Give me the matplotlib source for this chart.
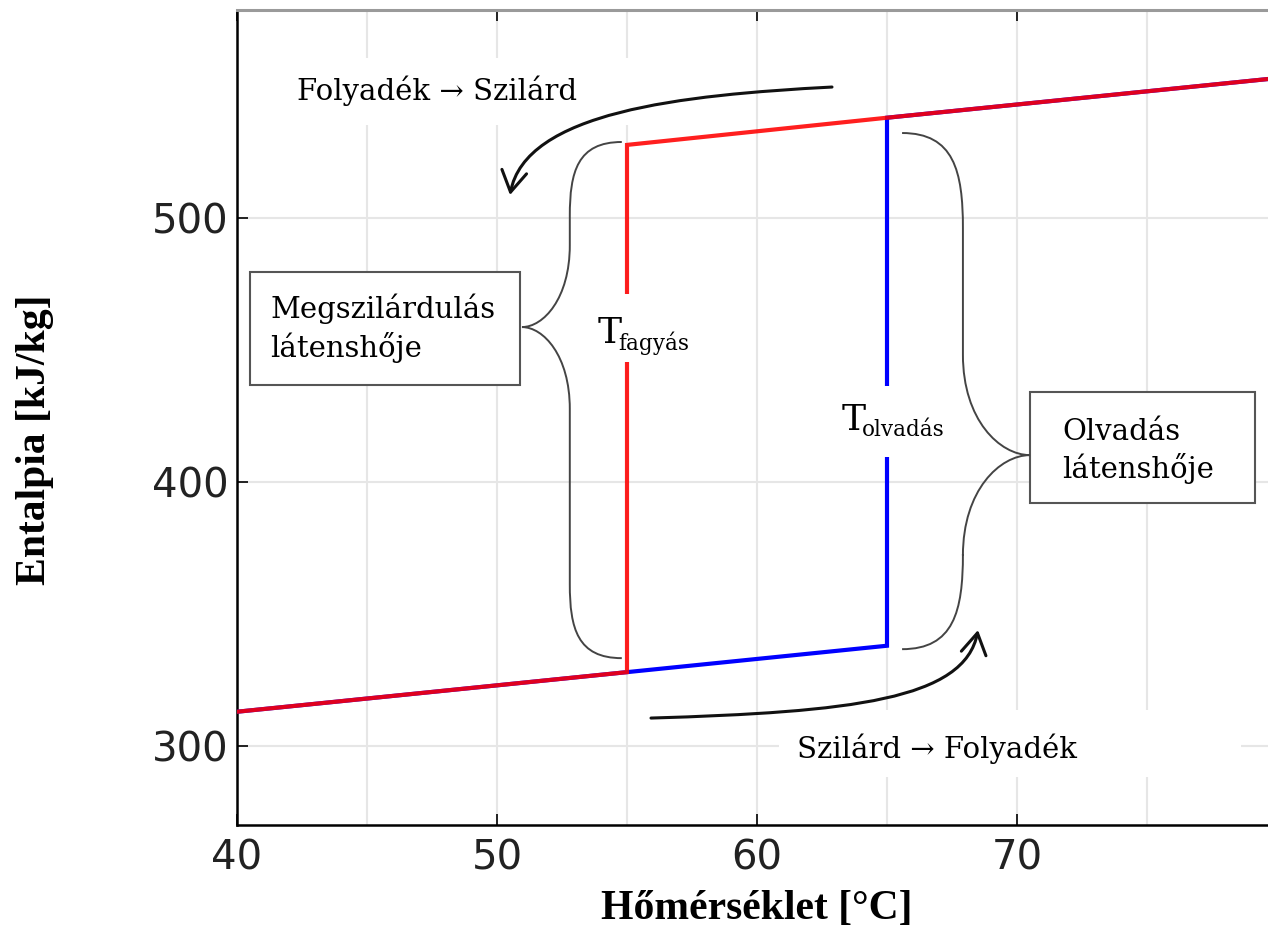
import matplotlib
matplotlib.use("Agg")
import matplotlib.pyplot as plt
from matplotlib.patches import Rectangle, FancyArrowPatch, PathPatch
from matplotlib.path import Path

# melting (heating) path and freezing (cooling) path
T_heat = [40, 55, 65, 65, 80]
H_heat = [313, 328, 338, 538, 553]
T_cool = [80, 65, 55, 55, 40]
H_cool = [553, 538, 527.7, 328, 313]

T_freeze = 55
T_melt = 65

x_ticks = [40, 50, 60, 70]
x_minor = [45, 55, 65, 75]
y_ticks = [300, 400, 500]

W, H = 1268, 933
fig = plt.figure(figsize=(W / 100, H / 100), dpi=100)
ax = fig.add_axes([237 / W, 108 / H, 1040 / W, 815 / H])
ax.set_xlim(40, 80)
ax.set_ylim(270.1, 578.8)

ax.set_xticks(x_ticks)
ax.set_xticks(x_minor, minor=True)
ax.set_yticks(y_ticks)
ax.grid(True, which='both', axis='x', color='#e6e6e6', lw=1.5)
ax.grid(True, which='major', axis='y', color='#e6e6e6', lw=1.5)
ax.tick_params(axis='both', which='major', direction='in', length=8, width=1.2,
               labelsize=29, labelcolor='#222', top=True)
ax.tick_params(axis='x', pad=10)
ax.tick_params(axis='y', pad=6)
ax.tick_params(axis='both', which='minor', length=0)
ax.spines['right'].set_visible(False)
ax.spines['top'].set_color('#9a9a9a')
ax.spines['top'].set_linewidth(2.2)
ax.spines['left'].set_linewidth(1.8)
ax.spines['bottom'].set_linewidth(1.8)

lab_font = dict(family=['Liberation Serif', 'DejaVu Serif'], fontweight='bold', fontsize=30)
ax.set_xlabel('Hőmérséklet [°C]', labelpad=8, **lab_font)
ax.set_ylabel('Entalpia [kJ/kg]', va='center', **lab_font)
ax.yaxis.set_label_coords((35 - 237) / 1040, 0.5 + (815 / 2 + 10 - 440) / 815)

ax.plot(T_heat, H_heat, color='#0000ff', lw=3, zorder=3, solid_joinstyle='miter')
ax.plot(T_cool, H_cool, color='#ff0000', lw=3, alpha=0.88, zorder=4, solid_joinstyle='miter')


def px2d(px, py):
    return 40 + (px - 237) / 26.0, 300 + (746 - py) / 2.64


def white_box(x0, y0, x1, y1, **kw):
    a = px2d(x0, y1)
    b = px2d(x1, y0)
    ax.add_patch(Rectangle(a, b[0] - a[0], b[1] - a[1], **kw))


serif = ['DejaVu Serif']

# white areas behind the arrow captions
white_box(270, 58, 650, 125, fc='white', ec='none', zorder=2)
white_box(779, 710, 1241, 777, fc='white', ec='none', zorder=2)

tx, ty = px2d(437, 91)
ax.text(tx, ty, 'Folyadék → Szilárd', family=serif, fontsize=21, ha='center', va='center', zorder=5)
tx, ty = px2d(937, 749)
ax.text(tx, ty, 'Szilárd → Folyadék', family=serif, fontsize=21, ha='center', va='center', zorder=5)

# label boxes
white_box(250, 272, 520, 385, fc='white', ec='#555', lw=1.5, zorder=5)
white_box(1030, 392, 1255, 503, fc='white', ec='#555', lw=1.5, zorder=5)
p = px2d(270, 318)
ax.text(p[0], p[1], 'Megszilárdulás', family=serif, fontsize=21, ha='left', va='baseline', zorder=6)
p = px2d(270, 357)
ax.text(p[0], p[1], 'látenshője', family=serif, fontsize=21, ha='left', va='baseline', zorder=6)
p = px2d(1062, 440)
ax.text(p[0], p[1], 'Olvadás', family=serif, fontsize=21, ha='left', va='baseline', zorder=6)
p = px2d(1062, 478)
ax.text(p[0], p[1], 'látenshője', family=serif, fontsize=21, ha='left', va='baseline', zorder=6)

# temperature labels on the vertical lines, with a gap cut in the line
white_box(612, 294, 642, 362, fc='white', ec='none', zorder=4.5)
white_box(872, 386, 902, 457, fc='white', ec='none', zorder=4.5)
ax.text(T_freeze - 1.13, px2d(0, 343)[1], 'T', family=serif, fontsize=26, va='baseline', zorder=5)
ax.text(T_freeze - 0.33, px2d(0, 350)[1], 'fagyás', family=serif, fontsize=15.5, va='baseline', zorder=5)
ax.text(T_melt - 1.75, px2d(0, 430)[1], 'T', family=serif, fontsize=26, va='baseline', zorder=5)
ax.text(T_melt - 0.95, px2d(0, 436)[1], 'olvadás', family=serif, fontsize=15.5, va='baseline', zorder=5)


def brace(xe, ytop, ybot, xv, xt, ym, he, ht):
    pts = [(xe, ytop), (xv + (xe - xv) * 0.15, ytop), (xv, ytop - he * 0.4), (xv, ytop - he),
           (xv, ym + ht),
           (xv, ym + ht * 0.35), (xt + (xv - xt) * 0.45, ym), (xt, ym),
           (xt + (xv - xt) * 0.45, ym), (xv, ym - ht * 0.35), (xv, ym - ht),
           (xv, ybot + he),
           (xv, ybot + he * 0.4), (xv + (xe - xv) * 0.15, ybot), (xe, ybot)]
    codes = [Path.MOVETO] + [Path.CURVE4] * 3 + [Path.LINETO] + [Path.CURVE4] * 6 \
        + [Path.LINETO] + [Path.CURVE4] * 3
    ax.add_patch(PathPatch(Path(pts, codes), fc='none', ec='#444', lw=1.4, zorder=5))


brace(54.8, 528.8, 333.3, 52.8, 50.96, 458.7, 28, 31)
brace(65.58, 532.2, 336.7, 67.92, 70.5, 410.2, 36, 38)

# process arrows
for pts in [[(832, 87), (680, 95), (525, 112), (510, 195)],
            [(651, 718), (850, 712), (965, 700), (978, 630)]]:
    dp = [px2d(*q) for q in pts]
    path = Path(dp, [Path.MOVETO, Path.CURVE4, Path.CURVE4, Path.CURVE4])
    ax.add_patch(FancyArrowPatch(path=path, arrowstyle='->,head_length=0.5,head_width=0.3',
                                 mutation_scale=30, color='#111', lw=2.2, zorder=5))

fig.savefig('out.png', dpi=100)
